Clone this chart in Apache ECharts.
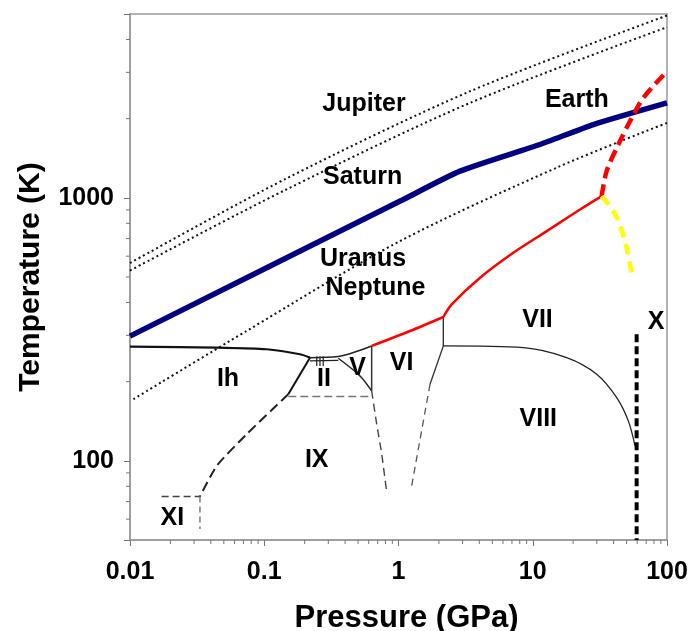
<!DOCTYPE html>
<html><head><meta charset="utf-8">
<script src="https://cdn.jsdelivr.net/npm/echarts@6/dist/echarts.min.js"></script>
<style>html,body{margin:0;padding:0;background:#fff}#c{width:689px;height:631px}</style>
</head><body><div id="c"></div>
<script>
// ---- axis ticks ----
const xTickLabels = ['0.01','0.1','1','10','100'];
const yTickLabels = ['100','1000'];
const minorSteps = [2,3,4,5,6,7,8,9];
const xDecades = [0.01,0.1,1,10];
const yDecades = [10,100,1000];

// ---- planetary isentropes (P in GPa, T in K) ----
const jupiterP = [0.01,0.143,3.41,100];
const jupiterT = [565,1178,2542,4933];
const saturnP = [0.01,0.143,3.41,100];
const saturnT = [529,1070,2296,4454];
const uranusP = [0.0106,0.0739,1.026,15.96,100];
const uranusT = [171.5,311.8,684.6,1319,1927];
const earthP = [0.01,1.03,2.87,11.3,28.3,100];
const earthT = [298,972,1263,1595,1900,2296];

// ---- phase boundaries ----
const meltIhP = [0.01,0.0443,0.1043,0.1846,0.219];
const meltIhT = [271.8,269.3,265.6,254.2,246.8];
const meltVP = [0.219,0.356,0.474,0.631];
const meltVT = [246.8,249.4,259.4,273.4];
const iiiLowP = [0.219,0.356];
const iiiLowT = [240,241];
const hatchP = [0.246,0.260,0.275];
const hatchT = [229.5,249.9];
const ihIIP = [0.219,0.151];
const ihIIT = [246.8,179.2];
const ihIXP = [0.151,0.074,0.0443,0.0332];
const ihIXT = [179.2,126.3,95.7,73.2];
const iiVP = [0.356,0.517,0.631];
const iiVT = [245.5,210.3,184.5];
const vviP = [0.631,0.631];
const vviT = [273.4,184.5];
const vviLowP = [0.631,0.688,0.75,0.817];
const vviLowT = [184.5,137.9,106,75.8];
const ixP = [0.151,0.631];
const ixT = [175.5,175.5];
const xiHP = [0.0172,0.0332];
const xiHT = [73.2,73.2];
const xiVP = [0.0332,0.0332];
const xiVT = [73.2,55];
const meltVIP = [0.631,1.218,2.157];
const meltVIT = [273.4,311.6,352.3];
const viviiP = [2.157,2.157];
const viviiT = [352.3,273.4];
const viviiiP = [2.157,1.717];
const viviiiT = [273.4,195.6];
const viviiiLowP = [1.717,1.254];
const viviiiLowT = [195.6,80.4];
const viiviiiP = [2.157,8.51,17.9,29.95,42.2,51.5,57.8];
const viiviiiT = [273.4,269.3,246.8,213.5,174,141.9,114];
const meltVIIP = [2.157,2.49,4.05,7.16,12.7,22.5,32.6];
const meltVIIT = [352.3,393.6,497,618,747,903,1015];
const redDashP = [32.6,35.5,43.4,54.6,66.6,100];
const redDashT = [1015,1263,1595,2013,2399,3028];
const yellowP = [32.6,41.0,48.6,54.6];
const yellowT = [1015,865,685,512];
const iceXP = [59.4,59.4];
const iceXT = [303,50];

// ---- region labels ----
const labelNames = ['Jupiter','Saturn','Earth','Uranus','Neptune','Ih','II','V','VI','VII','VIII','X','IX','XI'];
const labelP = [0.553,0.54,21.3,0.544,0.674,0.0537,0.2786,0.495,1.056,10.85,11.0,82.8,0.246,0.0207];
const labelT = [2269,1198,2350,585,452,203.9,203.9,225.5,234.6,343.2,143.8,337.3,100.9,60.7];

const zip = (a,b) => a.map((v,i)=>[v,b[i]]);
const FONT = 'Liberation Sans, Arial, sans-serif';

function line(P,T,color,width,type,smooth,z){
  return {type:'line', data:zip(P,T), showSymbol:false, symbol:'none', smooth:smooth||0,
    lineStyle:{color:color,width:width,type:type||'solid',cap:'butt'}, z:z||2, silent:true, animation:false};
}

const minorData = [];
xDecades.forEach(d=>minorSteps.forEach(s=>minorData.push([d*s,50,0])));
yDecades.forEach(d=>minorSteps.forEach(s=>{const v=d*s; if(v>50 && v<5000) minorData.push([0.01,v,1]);}));

const series = [
  line(jupiterP,jupiterT,'#111',2,[2,3],0.3),
  line(saturnP,saturnT,'#111',2,[2,3],0.3),
  line(uranusP,uranusT,'#111',2,[2,3],0.3),
  line(earthP,earthT,'#000080',5.5,'solid',0.2,3),
  line(meltIhP,meltIhT,'#111',2.2,'solid',0.3),
  line(meltVP,meltVT,'#222',1.5,'solid',0.3),
  line(iiiLowP,iiiLowT,'#222',1.2,'solid',0),
  line(ihIIP,ihIIT,'#111',2,'solid',0),
  line(ihIXP,ihIXT,'#222',2,[10,5],0.2),
  line(iiVP,iiVT,'#222',1.5,'solid',0.3),
  line(vviP,vviT,'#333',1.5,'solid',0),
  line(vviLowP,vviLowT,'#444',1.4,[8,5],0.2),
  line(ixP,ixT,'#777',1.5,[8,4],0),
  line(xiHP,xiHT,'#444',1.5,[7,4],0),
  line(xiVP,xiVT,'#666',1.3,[6,4],0),
  line(meltVIP,meltVIT,'#ff0000',2.5,'solid',0.3,4),
  line(viviiP,viviiT,'#333',1.4,'solid',0),
  line(viviiiP,viviiiT,'#333',1.3,'solid',0),
  line(viviiiLowP,viviiiLowT,'#555',1.3,[7,5],0),
  line(viiviiiP,viiviiiT,'#222',1.3,'solid',0.3),
  line(meltVIIP,meltVIIT,'#ff0000',2.5,'solid',0.3,4),
  line(redDashP,redDashT,'#ff0000',4.5,[12,6],0.3,5),
  line(yellowP,yellowT,'#ffff00',4.5,[11,7],0.3,5),
  line(iceXP,iceXT,'#000',4,[8,4],0,5)
];
hatchP.forEach(p=>series.push(line([p,p],hatchT,'#222',1.2,'solid',0)));

series.push({
  type:'scatter', data:labelNames.map((n,i)=>({name:n,value:[labelP[i],labelT[i]]})),
  symbolSize:0, silent:true, animation:false, z:10, itemStyle:{opacity:1},
  label:{show:true,position:'inside',formatter:p=>p.name,fontSize:25,fontWeight:'bold',color:'#000',opacity:1,textBorderWidth:0,fontFamily:FONT}
});
series.push({
  type:'custom', data:minorData, encode:{x:0,y:1}, silent:true, animation:false, clip:false,
  renderItem:(params,api)=>{
    const isX = api.value(2)===0;
    const pt = api.coord([api.value(0),api.value(1)]);
    return {type:'line', shape: isX ? {x1:pt[0],y1:pt[1],x2:pt[0],y2:pt[1]+4} : {x1:pt[0],y1:pt[1],x2:pt[0]-4,y2:pt[1]},
      style:{stroke:'#777',lineWidth:1}};
  }
});

const chart = echarts.init(document.getElementById('c'),null,{renderer:'canvas'});
chart.setOption({
  animation:false,
  backgroundColor:'#fff',
  grid:{left:130,right:22,top:14,bottom:91,show:true,borderColor:'#999',borderWidth:1.5,backgroundColor:'transparent',
    containLabel:false,outerBoundsMode:'none'},
  xAxis:{type:'log',logBase:10,min:0.01,max:100,
    name:'Pressure (GPa)',nameLocation:'middle',nameGap:63,nameMoveOverlap:false,
    nameTextStyle:{fontSize:31,fontWeight:'bold',color:'#000',fontFamily:FONT,padding:[0,0,0,16]},
    axisLine:{lineStyle:{color:'#999',width:1.5}},
    axisTick:{length:6,lineStyle:{color:'#777'}},
    splitLine:{show:false},
    axisLabel:{fontSize:25,fontWeight:'bold',color:'#000',fontFamily:FONT,margin:20,
      formatter:v=>{const k=Math.round(Math.log10(v))+2; const s=xTickLabels[k]; return (s!==undefined && Math.abs(Math.log10(v)-Math.round(Math.log10(v)))<1e-6)?s:'';}}
  },
  yAxis:{type:'log',logBase:10,min:50,max:5000,
    name:'Temperature (K)',nameLocation:'middle',nameGap:84,nameMoveOverlap:false,
    nameTextStyle:{fontSize:30,fontWeight:'bold',color:'#000',fontFamily:FONT},
    axisLine:{lineStyle:{color:'#999',width:1.5}},
    axisTick:{length:6,lineStyle:{color:'#777'}},
    splitLine:{show:false},
    axisLabel:{fontSize:25,fontWeight:'bold',color:'#000',fontFamily:FONT,margin:16,
      formatter:v=>{const s=String(Math.round(v)); return yTickLabels.indexOf(s)>=0?s:'';}}
  },
  series:series
});
</script></body></html>
